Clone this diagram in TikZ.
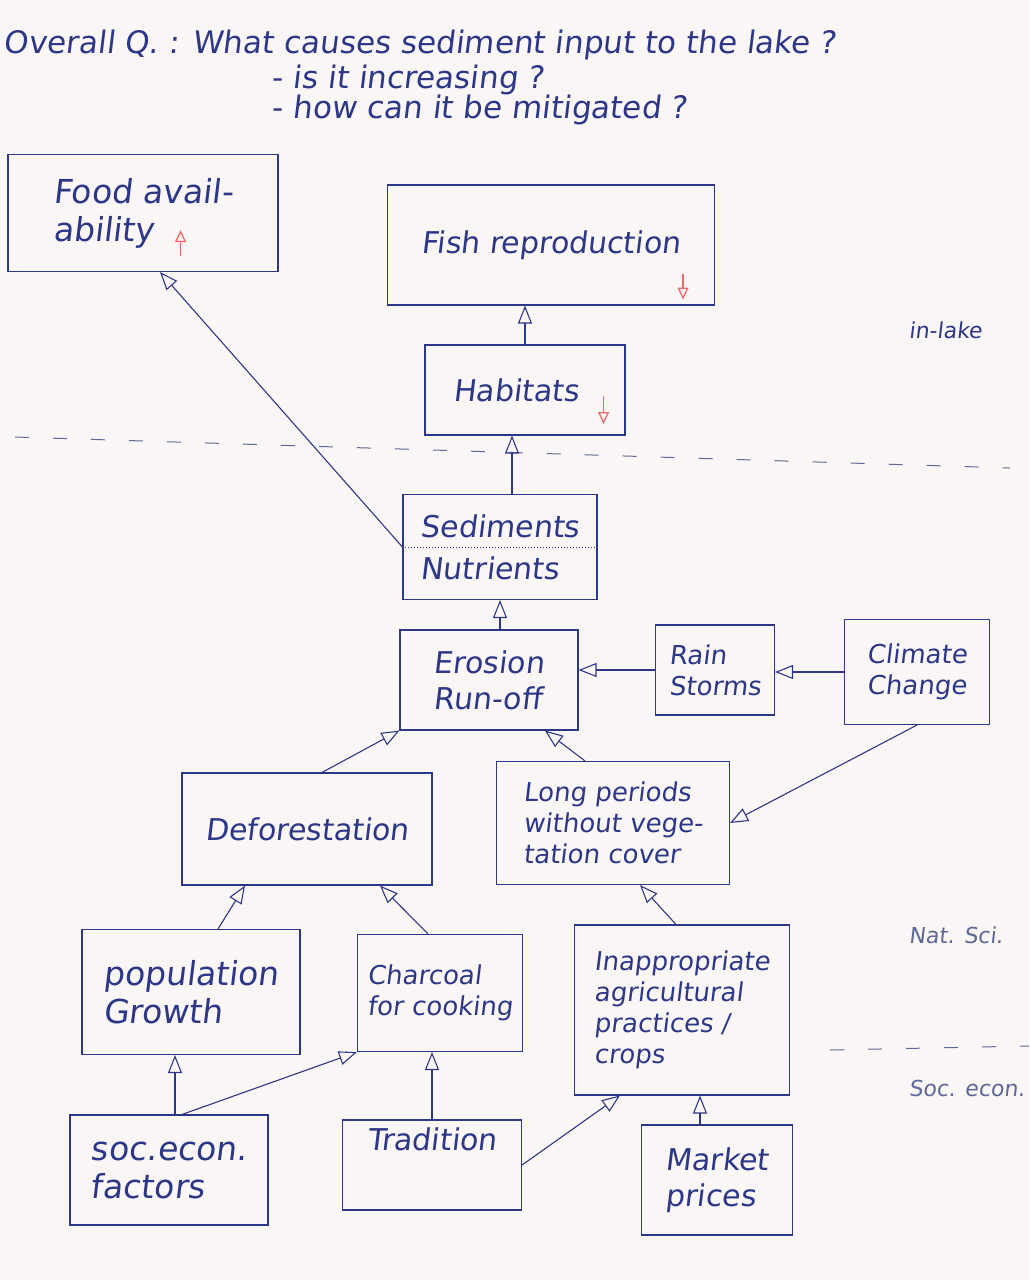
\documentclass[tikz,border=0pt]{standalone}
\usepackage{fontspec}
\setmainfont{DejaVu Sans}[FakeSlant=0.12]
\usetikzlibrary{arrows.meta}
\definecolor{paper}{RGB}{250,246,246}
\definecolor{ink}{RGB}{45,55,135}
\definecolor{pencil}{RGB}{95,105,150}
\definecolor{redink}{RGB}{235,105,105}
\begin{document}
\begin{tikzpicture}[x=1pt,y=-1pt,ink,line width=1.1pt,
        font=\fontsize{26}{31}\selectfont,
        box/.style={rectangle,draw,align=left,inner sep=6pt},
        large/.style={font=\fontsize{30}{36}\selectfont},
        huge/.style={font=\fontsize{33}{38}\selectfont},
        link/.style={-{Triangle[open,length=18pt,width=14pt]}},
        redtick/.style={redink,line width=1.3pt,-{Triangle[open,length=12pt,width=11pt]}},
        divider/.style={pencil,line width=1pt,dash pattern=on 14pt off 24pt},
        headtext/.style={anchor=west,font=\fontsize{31}{35}\selectfont},
        side/.style={anchor=west,pencil,font=\fontsize{22}{26}\selectfont}]
        \fill[paper] (0,0) rectangle (1029,1280);
        \useasboundingbox (0,0) rectangle (1029,1280);

        \draw (0,45) node (question) [headtext] {Overall Q. : What causes sediment input to the lake ?};
        \draw (268,80) node (subone) [headtext] {- is it increasing ?};
        \draw (268,110) node (subtwo) [headtext] {- how can it be mitigated ?};

        \draw (143,213) node (food) [box,huge,minimum width=270pt,minimum height=117pt] {Food avail-\\ability \hspace{0.8em}};
        \draw (551,245) node (fish) [box,large,minimum width=327pt,minimum height=120pt] {Fish reproduction};
        \draw (525,390) node (habitats) [box,large,minimum width=200pt,minimum height=90pt] {Habitats\hspace{0.6em}};
        \draw (500,547) node (sed) [box,large,minimum width=194pt,minimum height=105pt] {Sediments\\[6pt]Nutrients};
        \draw (489,680) node (erosion) [box,large,minimum width=178pt,minimum height=100pt] {Erosion\\Run-off};
        \draw (715,670) node (rain) [box,minimum width=119pt,minimum height=90pt] {Rain\\Storms};
        \draw (917,672) node (climate) [box,minimum width=145pt,minimum height=105pt] {Climate\\Change};
        \draw (307,829) node (defor) [box,large,minimum width=250pt,minimum height=112pt] {Deforestation};
        \draw (613,823) node (longp) [box,minimum width=233pt,minimum height=123pt] {Long periods\\without vege-\\tation cover};
        \draw (191,992) node (pop) [box,huge,minimum width=218pt,minimum height=125pt] {population\\Growth};
        \draw (440,993) node (charcoal) [box,minimum width=165pt,minimum height=117pt] {Charcoal\\for cooking};
        \draw (682,1010) node (inapp) [box,minimum width=215pt,minimum height=170pt] {Inappropriate\\agricultural\\practices /\\crops};
        \draw (169,1170) node (socecon) [box,huge,minimum width=198pt,minimum height=110pt] {soc.econ.\\factors};
        \draw (432,1165) node (tradition) [box,large,minimum width=179pt,minimum height=90pt] {Tradition\\[16pt]};
        \draw (717,1180) node (market) [box,large,minimum width=151pt,minimum height=110pt] {Market\\prices};

        \draw (905,330) node (inlake) [side,ink] {in-lake};
        \draw (905,935) node (natsci) [side] {Nat. Sci.};
        \draw (905,1088) node (soceconlabel) [side] {Soc. econ.};

        \draw [divider] (15,437) -- (1010,468);
        \draw [divider] (830,1050) -- (1029,1046);
        \draw [dotted,line width=1pt] (sed.west) -- (sed.east);

        \draw [redtick] ([xshift=-98pt,yshift=16pt]food.south east) -- ++(0,-26);
        \draw [redtick] ([xshift=-32pt,yshift=32pt]fish.south east) -- ++(0,26);
        \draw [redtick] ([xshift=-22pt,yshift=-6pt]habitats.east) -- ++(0,28);

        \draw [link] (sed.west) to ([xshift=17pt]food.south);
        \draw [link] (habitats.north) to (habitats.north |- fish.south);
        \draw [link] ([xshift=12pt]sed.north) to ([xshift=12pt]sed.north |- habitats.south);
        \draw [link] (sed.south |- erosion.north) to (sed.south);
        \draw [link] (rain.west) to (rain.west -| erosion.east);
        \draw [link] (climate.west) to (climate.west -| rain.east);
        \draw [link] ([xshift=15pt]defor.north) to (erosion.south west);
        \draw [link] ([xshift=-28pt]longp.north) to ([xshift=56pt]erosion.south);
        \draw [link] (climate.south) to (longp.east);
        \draw [link] ([xshift=27pt]pop.north) to ([xshift=-62pt]defor.south);
        \draw [link] ([xshift=-12pt]charcoal.north) to ([xshift=73pt]defor.south);
        \draw [link] ([xshift=-6pt]inapp.north) to ([xshift=27pt]longp.south);
        \draw [link] ([xshift=6pt]socecon.north) to ([xshift=6pt]socecon.north |- pop.south);
        \draw [link] ([xshift=13pt]socecon.north) to (charcoal.south west);
        \draw [link] (tradition.north) to (tradition.north |- charcoal.south);
        \draw [link] (tradition.east) to ([xshift=-62pt]inapp.south);
        \draw [link] ([xshift=-17pt]market.north) to ([xshift=-17pt]market.north |- inapp.south);
    \end{tikzpicture}
\end{document}
